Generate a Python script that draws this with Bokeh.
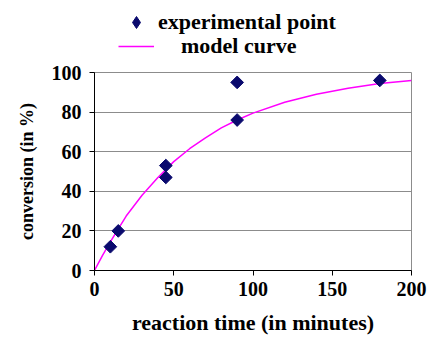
import math
from bokeh.plotting import figure
from bokeh.layouts import column
from bokeh.models import Legend, LegendItem, FixedTicker, Range1d
from bokeh.embed import file_html
from bokeh.resources import INLINE

# experimental points
exp_time = [10, 15, 45, 45, 90, 90, 180]
exp_conv = [12, 20, 53, 47, 95, 76, 96]

# model curve
model_time = [0, 5, 10, 15, 20, 30, 40, 50, 60, 70, 80, 90, 100, 120, 140, 160, 180, 200]
model_conv = [0, 7.5, 14.5, 21, 27.5, 38, 47, 55, 61.5, 67, 72, 76, 79.5, 85, 89, 92, 94.5, 96]

x_ticks = [0, 50, 100, 150, 200]
y_ticks = [0, 20, 40, 60, 80, 100]

FONT = "Liberation Serif"
NAVY = "#0a0a6e"
MAGENTA = "#ff00ff"

# ---- main chart ----
p = figure(width=430, height=275, output_backend="svg", toolbar_location=None,
           x_range=Range1d(0, 200), y_range=Range1d(0, 100),
           min_border_left=94, min_border_right=19, min_border_top=10, min_border_bottom=65)

p.background_fill_color = "white"
p.border_fill_color = "white"
p.outline_line_color = "#8c8c8c"
p.outline_line_width = 1

p.xgrid.visible = False
p.ygrid.grid_line_color = "#8c8c8c"
p.ygrid.grid_line_width = 1

for ax, ticks in ((p.xaxis[0], x_ticks), (p.yaxis[0], y_ticks)):
    ax.ticker = FixedTicker(ticks=ticks)
    ax.minor_tick_line_color = None
    ax.major_tick_out = 5
    ax.major_tick_in = 0
    ax.axis_line_color = "black"
    ax.major_tick_line_color = "black"
    ax.major_label_text_font = FONT
    ax.major_label_text_font_style = "bold"
    ax.major_label_text_font_size = "20px"
    ax.major_label_text_color = "black"
    ax.axis_label_text_font = FONT
    ax.axis_label_text_font_style = "bold"
    ax.axis_label_text_color = "black"

p.xaxis.axis_label = "reaction time (in minutes)"
p.yaxis.axis_label = "conversion (in %)"
p.xaxis.axis_label_text_font_size = "22px"
p.yaxis.axis_label_text_font_size = "18px"
p.xaxis.major_label_standoff = 6
p.xaxis.axis_label_standoff = 11
p.yaxis.major_label_standoff = 8
p.yaxis.axis_label_standoff = 12

p.line(model_time, model_conv, line_color=MAGENTA, line_width=1.5)
p.scatter(exp_time, exp_conv, marker="square", angle=math.pi / 4, size=9,
          fill_color=NAVY, line_color=NAVY)

# ---- legend strip on top (its own renderers fall outside its empty frame) ----
top = figure(width=430, height=62, output_backend="svg", toolbar_location=None,
             x_range=Range1d(1000, 1001), y_range=Range1d(1000, 1001),
             min_border=0, min_border_left=94, min_border_right=19,
             min_border_top=0, min_border_bottom=0)
top.axis.visible = False
top.grid.visible = False
top.outline_line_color = None
top.background_fill_color = "white"
top.border_fill_color = "white"

key_line = top.line(model_time, model_conv, line_color=MAGENTA, line_width=1.5)
key_pts = top.scatter(exp_time, exp_conv, marker="diamond", size=14,
                      fill_color=NAVY, line_color=NAVY)

common = dict(orientation="horizontal", label_text_font=FONT, label_text_font_style="bold",
              label_text_font_size="22px", label_text_color="black",
              glyph_width=36, glyph_height=30, spacing=0, padding=0, margin=0,
              border_line_color=None, background_fill_alpha=0)

leg_exp = Legend(items=[LegendItem(label="experimental point", renderers=[key_pts])],
                 location=(24, 25), label_standoff=4, **common)
leg_model = Legend(items=[LegendItem(label="model curve", renderers=[key_line])],
                   location=(24, 1), label_standoff=27, **common)
top.add_layout(leg_exp, "center")
top.add_layout(leg_model, "center")

layout = column(top, p, spacing=0)
open("out.html", "w").write(file_html(layout, INLINE))
